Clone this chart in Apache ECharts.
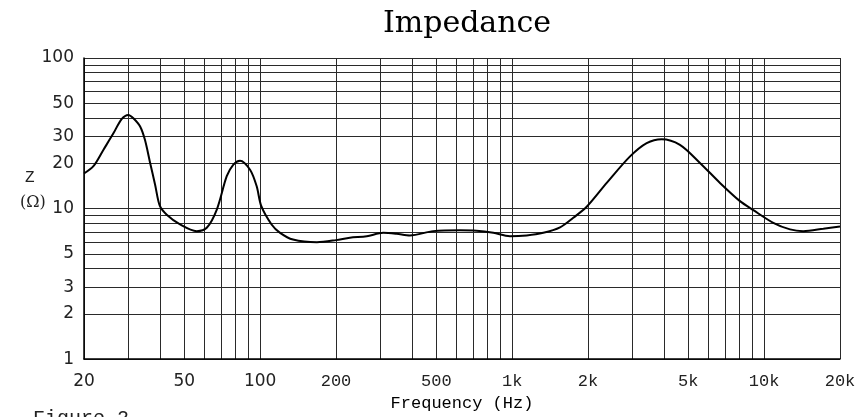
<!DOCTYPE html>
<html>
<head>
<meta charset="utf-8">
<script src="https://cdn.jsdelivr.net/npm/echarts@6/dist/echarts.min.js"></script>
<style>
html,body{margin:0;padding:0;background:#fff;}
#chart{width:865px;height:417px;}
</style>
</head>
<body>
<div id="chart"></div>
<script>
// Frequency (Hz) of curve points
const freqHz = [20, 21.8, 23.9, 26.2, 28.2, 30, 31.4, 33.4, 34.9, 36.6, 38.3, 40, 42.6, 48.1, 56, 61.4, 67.3, 73.7, 78.3, 83.2, 91.2, 96.9, 101, 111, 120, 135, 168, 200, 227, 265, 308, 348, 393, 486, 621, 723, 842, 980, 1142, 1329, 1549, 1748, 1976, 2373, 2937, 3419, 3922, 4634, 5563, 6680, 8020, 9060, 10870, 12670, 14300, 17170, 20000];
// Impedance (ohm)
const impedanceOhm = [17.1, 19.1, 24.6, 31.7, 39.3, 41.9, 39.8, 35.1, 28.6, 20.1, 14.4, 10.4, 9.1, 7.84, 7.08, 7.45, 9.85, 16.4, 19.6, 20.8, 18.1, 14.05, 10.4, 7.84, 6.9, 6.23, 5.98, 6.17, 6.4, 6.55, 6.9, 6.8, 6.63, 7.08, 7.18, 7.13, 6.9, 6.55, 6.63, 6.9, 7.5, 8.68, 10.27, 14.8, 22.2, 27.2, 28.9, 26.5, 20.1, 14.8, 11.2, 9.76, 8.04, 7.27, 7.08, 7.34, 7.6];

const xGridValues = [20,30,40,50,60,70,80,90,100,200,300,400,500,600,700,800,900,1000,2000,3000,4000,5000,6000,7000,8000,9000,10000,20000];
const xLabelValues = [20,50,100,200,500,1000,2000,5000,10000,20000];
const xLabelTexts = ['20','50','100','200','500','1k','2k','5k','10k','20k'];
const yGridValues = [1,2,3,4,5,6,7,8,9,10,20,30,40,50,60,70,80,90,100];
const yLabelValues = [1,2,3,5,10,20,30,50,100];
const yLabelTexts = ['1','2','3','5','10','20','30','50','100'];

function nearestIndex(arr, v) {
  let best = 0, bd = Infinity;
  for (let i = 0; i < arr.length; i++) {
    const d = Math.abs(Math.log(arr[i]) - Math.log(v));
    if (d < bd) { bd = d; best = i; }
  }
  return best;
}

const chart = echarts.init(document.getElementById('chart'), null, {renderer: 'canvas'});
const gridColor = '#2a2a2a';
chart.setOption({
  animation: false,
  backgroundColor: '#fff',
  title: {
    text: 'Impedance',
    left: 462,
    textAlign: 'center',
    top: 4,
    textStyle: {fontFamily: 'DejaVu Serif', fontSize: 30, fontWeight: 'normal', color: '#000'}
  },
  grid: {left: 84, right: 25, top: 58, bottom: 57},
  xAxis: {
    type: 'log', logBase: 10, min: 20, max: 20000,
    name: 'Frequency (Hz)', nameLocation: 'middle', nameGap: 35,
    nameTextStyle: {fontFamily: 'Liberation Mono', fontSize: 17, color: '#000'},
    axisLine: {show: true, lineStyle: {color: '#000', width: 1.5}},
    axisTick: {show: false, customValues: xGridValues},
    splitLine: {show: true, lineStyle: {color: gridColor, width: 1}},
    minorSplitLine: {show: false},
    axisLabel: {
      customValues: xLabelValues,
      margin: 14,
      formatter: function (v) {
        const i = nearestIndex(xLabelValues, v);
        return (i < 3 ? '{s|' : '{m|') + xLabelTexts[i] + '}';
      },
      rich: {
        s: {fontFamily: 'DejaVu Sans', fontSize: 17, color: '#222'},
        m: {fontFamily: 'Liberation Mono', fontSize: 17, color: '#222'}
      }
    }
  },
  yAxis: {
    type: 'log', logBase: 10, min: 1, max: 100,
    axisLine: {show: true, lineStyle: {color: '#000', width: 1.5}},
    axisTick: {show: false, customValues: yGridValues},
    splitLine: {show: true, lineStyle: {color: gridColor, width: 1}},
    axisLabel: {
      customValues: yLabelValues,
      margin: 10,
      fontFamily: 'DejaVu Sans', fontSize: 17, color: '#222',
      formatter: function (v) { return yLabelTexts[nearestIndex(yLabelValues, v)]; }
    }
  },
  graphic: [
    {type: 'text', left: 25, top: 170, style: {text: 'Z', font: '16px "Liberation Mono"', fill: '#222'}},
    {type: 'text', left: 20, top: 195, style: {text: '(Ω)', font: '16px "DejaVu Serif"', fill: '#222'}},
    {type: 'text', left: 33, top: 409, style: {text: 'Figure 2', font: '20px "Liberation Mono"', fill: '#222'}}
  ],
  series: [{
    type: 'line',
    data: freqHz.map((f, i) => [f, impedanceOhm[i]]),
    showSymbol: false,
    smooth: 0.3,
    lineStyle: {color: '#000', width: 2},
    clip: true
  }]
});
</script>
</body>
</html>
